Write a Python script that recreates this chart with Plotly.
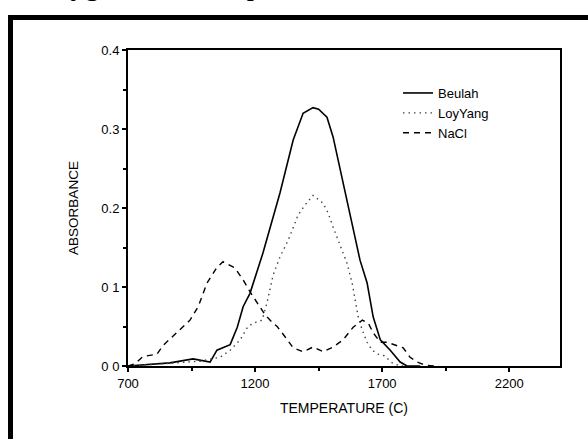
import plotly.graph_objects as go

# ---- data ----
beulah_T = [700, 787, 865, 956, 1023, 1050, 1102, 1130, 1153, 1180, 1231, 1298, 1350, 1389,
            1428, 1450, 1483, 1507, 1535, 1574, 1613, 1641, 1665, 1693, 1732, 1771, 1798, 1850]
beulah_A = [0.0, 0.002, 0.004, 0.009, 0.005, 0.02, 0.027, 0.049, 0.075, 0.092, 0.143, 0.219,
            0.286, 0.32, 0.327, 0.325, 0.315, 0.29, 0.248, 0.194, 0.134, 0.105, 0.062, 0.033,
            0.02, 0.005, 0.0, 0.0]

loyyang_T = [700, 865, 983, 1062, 1102, 1141, 1172, 1200, 1228, 1247, 1271, 1298, 1330, 1350,
             1369, 1397, 1428, 1468, 1487, 1507, 1527, 1546, 1562, 1582, 1594, 1606, 1622,
             1641, 1661, 1684, 1708, 1740, 1771, 1850]
loyyang_A = [0.0, 0.003, 0.006, 0.011, 0.02, 0.033, 0.05, 0.055, 0.058, 0.08, 0.115, 0.138,
             0.159, 0.175, 0.191, 0.204, 0.216, 0.206, 0.194, 0.176, 0.159, 0.143, 0.13, 0.105,
             0.083, 0.062, 0.045, 0.03, 0.02, 0.015, 0.013, 0.004, 0.0, 0.0]

nacl_T = [700, 728, 759, 787, 814, 838, 877, 913, 944, 976, 1011, 1050, 1074, 1121, 1153,
          1180, 1208, 1239, 1271, 1287, 1318, 1350, 1389, 1428, 1468, 1507, 1546, 1586, 1622,
          1646, 1665, 1693, 1720, 1752, 1783, 1810, 1838, 1870, 1909]
nacl_A = [0.0, 0.003, 0.012, 0.014, 0.015, 0.026, 0.038, 0.048, 0.058, 0.075, 0.105, 0.125,
          0.132, 0.124, 0.109, 0.094, 0.08, 0.065, 0.054, 0.05, 0.037, 0.023, 0.018, 0.024,
          0.018, 0.024, 0.033, 0.049, 0.058, 0.054, 0.042, 0.03, 0.03, 0.026, 0.023, 0.011,
          0.005, 0.001, 0.0]

x_tickvals = [700, 1200, 1700, 2200]
x_ticktext = ["700", "1200", "1700", "2200"]
y_tickvals = [0.0, 0.1, 0.2, 0.3, 0.4]
y_ticktext = ["0 0", "0 1", "0.2", "0.3", "0.4"]

FONT = "Liberation Sans, Arial, sans-serif"

fig = go.Figure()
fig.add_trace(go.Scatter(x=beulah_T, y=beulah_A, mode="lines", name="Beulah",
                         line=dict(color="black", width=1.6, dash="solid")))
fig.add_trace(go.Scatter(x=loyyang_T, y=loyyang_A, mode="lines", name="LoyYang",
                         line=dict(color="#444444", width=1.4, dash="1.5px,4px")))
fig.add_trace(go.Scatter(x=nacl_T, y=nacl_A, mode="lines", name="NaCl",
                         line=dict(color="black", width=1.4, dash="6px,5px")))

W, H = 588, 439
L, R, T, B = 128, 28, 50, 73
pw, ph = W - L - R, H - T - B

def px_to_paper_x(px):
    return (px - L) / pw

def px_to_paper_y(py):
    return (H - B - py) / ph

fig.update_layout(
    width=W, height=H,
    margin=dict(l=L, r=R, t=T, b=B),
    paper_bgcolor="white", plot_bgcolor="white",
    font=dict(family=FONT, size=13, color="black"),
    showlegend=True,
    legend=dict(x=px_to_paper_x(398), y=px_to_paper_y(78), xanchor="left", yanchor="top",
                bgcolor="rgba(0,0,0,0)", font=dict(size=13, family=FONT),
                tracegroupgap=0, itemwidth=30),
    xaxis=dict(range=[700, 2400], tickvals=x_tickvals, ticktext=x_ticktext,
               showgrid=False, zeroline=False, showline=True, linecolor="black",
               linewidth=2, mirror=True, ticks="outside", ticklen=4, tickwidth=1.5,
               tickcolor="black", tickfont=dict(size=13),
               minor=dict(dtick=250, tick0=700, ticks="outside", ticklen=3,
                          tickwidth=1.5, tickcolor="black", showgrid=False),
               title=dict(text="TEMPERATURE (C)", font=dict(size=14), standoff=14)),
    yaxis=dict(range=[0, 0.4], tickvals=y_tickvals, ticktext=y_ticktext,
               showgrid=False, zeroline=False, showline=True, linecolor="black",
               linewidth=2, mirror=True, ticks="outside", ticklen=4, tickwidth=1.5,
               tickcolor="black", tickfont=dict(size=13),
               minor=dict(dtick=0.05, tick0=0, ticks="outside", ticklen=3,
                          tickwidth=1.5, tickcolor="black", showgrid=False),
               title=dict(text="ABSORBANCE", font=dict(size=13.5), standoff=20)),
)

# outer frame of the scanned figure
fig.add_shape(type="rect", xref="paper", yref="paper",
              x0=px_to_paper_x(10.5), x1=px_to_paper_x(620),
              y0=px_to_paper_y(480), y1=px_to_paper_y(17.5),
              line=dict(color="black", width=5), fillcolor="rgba(0,0,0,0)", layer="above")

# cropped caption text at the very top of the scan (only descenders visible)
fig.add_annotation(text="Oxygen Chemisorption", xref="paper", yref="paper",
                   x=px_to_paper_x(33), y=px_to_paper_y(3), xanchor="left", yanchor="bottom",
                   showarrow=False, font=dict(family="Liberation Serif, serif", size=29,
                                              color="black"))

fig.write_html("out.html")
